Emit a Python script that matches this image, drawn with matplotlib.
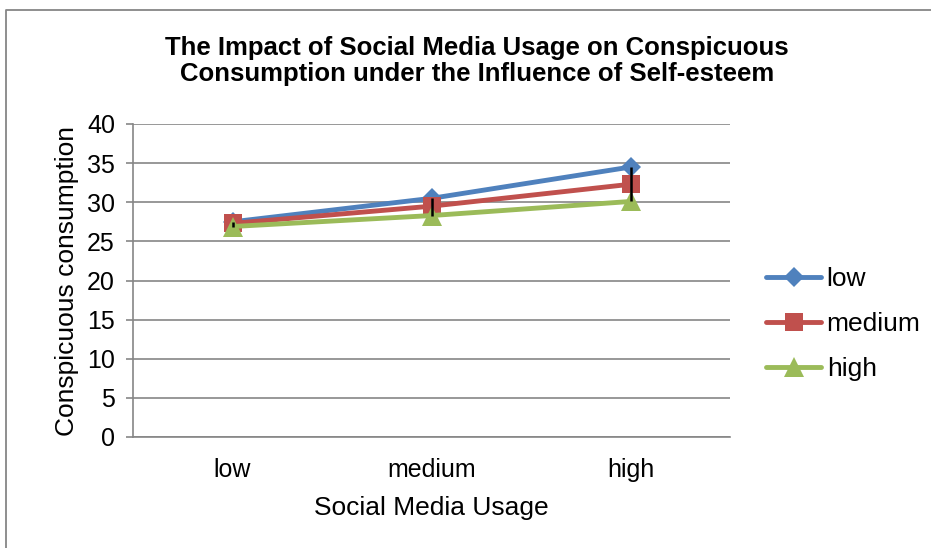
import matplotlib
matplotlib.use("Agg")
import matplotlib.pyplot as plt
from matplotlib.lines import Line2D
import numpy as np

plt.rcParams['font.family'] = ['Liberation Sans', 'DejaVu Sans']

categories = ["low", "medium", "high"]
series_names = ["low", "medium", "high"]
low_vals = [27.5, 30.5, 34.5]
medium_vals = [27.3, 29.5, 32.3]
high_vals = [26.9, 28.3, 30.1]
yticks = [0, 5, 10, 15, 20, 25, 30, 35, 40]

colors = ["#4F81BD", "#C0504D", "#9BBB59"]
markers = ["D", "s", "^"]
msizes = [10, 13, 14]

W, H = 931, 548
fig = plt.figure(figsize=(W / 100, H / 100), dpi=100)

# outer chart frame (cropped at right/bottom)
fig.lines.append(Line2D([5.5 / W, 5.5 / W, 1.01], [-0.01, 1 - 9.5 / H, 1 - 9.5 / H],
                        transform=fig.transFigure, color="#868686", linewidth=1.3))

ax = fig.add_axes([133 / W, 1 - 437 / H, (730 - 133) / W, (437 - 124) / H])
x = np.arange(len(categories))
all_vals = [low_vals, medium_vals, high_vals]

# high-low lines
arr = np.array(all_vals)
ax.vlines(x, arr.min(axis=0), arr.max(axis=0), colors="black", linewidth=1.8, zorder=5)

for vals, name, c, m, ms in zip(all_vals, series_names, colors, markers, msizes):
    ax.plot(x, vals, color=c, linewidth=3.5, marker=m, markersize=ms,
            markeredgewidth=0, label=name, zorder=3, solid_capstyle="round")

ax.set_xlim(-0.5, 2.5)
ax.set_ylim(0, 40)
ax.set_yticks(yticks)
ax.set_xticks(x)
ax.set_xticklabels(categories)
ax.tick_params(axis="x", length=0, labelsize=18, pad=15)
ax.tick_params(axis="y", length=5, width=1.2, color="#868686", labelsize=18, pad=8)
ax.grid(axis="y", color="#868686", linewidth=1.2)
ax.set_axisbelow(True)
for s in ["top", "right"]:
    ax.spines[s].set_visible(False)
for s in ["left", "bottom"]:
    ax.spines[s].set_color("#868686")
    ax.spines[s].set_linewidth(1.2)

ax.set_xlabel("Social Media Usage", fontsize=19, labelpad=10)
ax.set_ylabel("Conspicuous consumption", fontsize=19, labelpad=6)

fig.text(477 / W, 1 - 61 / H,
         "The Impact of Social Media Usage on Conspicuous\nConsumption under the Influence of Self-esteem",
         ha="center", va="center", fontsize=18.5, fontweight="bold", linespacing=1.1)

leg = fig.legend(loc="center left", bbox_to_anchor=(766 / W, 1 - 324 / H), frameon=False,
                 fontsize=19, handlelength=2.1, handletextpad=0.2, labelspacing=0.8,
                 borderaxespad=0, borderpad=0)

fig.savefig("out.png", dpi=100)
